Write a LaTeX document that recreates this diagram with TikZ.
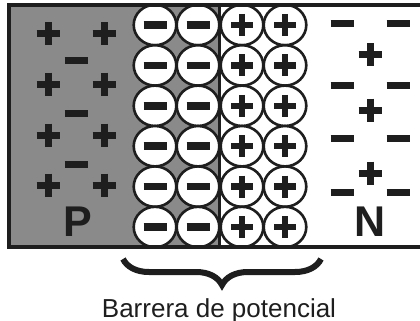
\documentclass[tikz,border=0pt]{standalone}
\usepackage{fontspec}
\setmainfont{Liberation Sans}
\usetikzlibrary{decorations.pathreplacing}
\definecolor{ink}{HTML}{1E1E1E}
\definecolor{pside}{HTML}{8A8A8A}
\tikzset{
  sign/.style={draw=ink, line width=7pt},
  ion/.style={draw=ink, line width=2.6pt, fill=white},
  frame/.style={draw=ink, line width=3.2pt},
  pos/.pic={\draw[sign] (-11.5,0) -- (11.5,0) (0,-11.5) -- (0,11.5);},
  neg/.pic={\draw[sign] (-11.5,0) -- (11.5,0);},
  ionneg/.pic={\draw[ion] (0,0) ellipse [x radius=21.3, y radius=20.2];
               \draw[sign, line width=7.5pt] (-11.5,0) -- (11.5,0);},
  ionpos/.pic={\draw[ion] (0,0) ellipse [x radius=21.3, y radius=20.2];
               \draw[sign, line width=6.5pt] (-11,0) -- (11,0) (0,-11) -- (0,11);},
}
\begin{document}
\begin{tikzpicture}[x=1pt, y=-1pt]
  \useasboundingbox (0,0) rectangle (420,321);
  % P-type region
  \fill[pside] (9,5) rectangle (219,247);
  % junction line
  \draw[ink, line width=2.2pt] (219.5,5) -- (219.5,247);
  % depletion layer: fixed ions
  \foreach \r in {0,...,5} {
    \pgfmathsetmacro{\yy}{25+40.4*\r}
    \pic at (155,\yy) {ionneg};
    \pic at (198,\yy) {ionneg};
    \pic at (242,\yy) {ionpos};
    \pic at (285,\yy) {ionpos};
  }
  % outer frame (open on the right)
  \draw[frame] (420,5) -- (9,5) -- (9,247) -- (420,247);
  % P side carriers
  \foreach \yy in {34,84,135,185} {
    \pic at (48,\yy) {pos};
    \pic at (104,\yy) {pos};
  }
  \foreach \yy in {61,113,164} \pic at (76,\yy) {neg};
  % N side carriers
  \pic at (342,24) {neg};  \pic at (398,24) {neg};
  \pic at (342,85) {neg};  \pic at (398,85) {neg};
  \pic at (342,138) {neg}; \pic at (398,138) {neg};
  \pic at (342,192) {neg}; \pic at (398,192) {neg};
  \foreach \yy in {55,110,173} \pic at (370,\yy) {pos};
  % region labels
  \node[text=ink, font=\bfseries\fontsize{43}{43}\selectfont] (p) at (78,222) {P};
  \node[text=ink, font=\bfseries\fontsize{43}{43}\selectfont] (n) at (370,222) {N};
  % barrier brace and caption
  \coordinate (bl) at (123,259);
  \coordinate (br) at (321,259);
  \draw[ink, line width=6pt, decorate, decoration={brace, mirror, amplitude=26pt}] (bl) -- (br);
  \node[text=ink, anchor=base, font=\fontsize{26}{26}\selectfont] (cap) at (219,317) {Barrera de potencial};
\end{tikzpicture}
\end{document}
